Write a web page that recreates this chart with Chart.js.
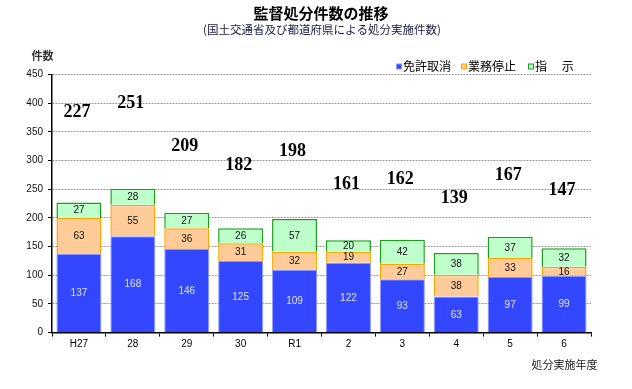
<!DOCTYPE html>
<html><head><meta charset="utf-8">
<script src="https://cdn.jsdelivr.net/npm/chart.js@4.4.1/dist/chart.umd.min.js"></script>
<style>html,body{margin:0;padding:0;background:#fff}#wrap{width:632px;height:389px;position:relative}</style>
</head><body><div id="wrap"><canvas id="c" width="632" height="389"></canvas></div>
<script>
// ---- data ----
const categories = ['H27','28','29','30','R1','2','3','4','5','6'];
const revocation = [137,168,146,125,109,122,93,63,97,99];   // 免許取消
const suspension = [63,55,36,31,32,19,27,38,33,16];         // 業務停止
const instruction = [27,28,27,26,57,20,42,38,37,32];        // 指示
const totals = [227,251,209,182,198,161,162,139,167,147];
const seriesNames = ['免許取消','業務停止','指　 示'];
const yMin = 0, yMax = 450, yStep = 50;
// vertical placement of the total labels (in axis units), as in the reference
const totalLabelAt = [385,399,325,291,317,259,267,234,274,248];

const titleText = '監督処分件数の推移';
const subtitleText = '(国土交通省及び都道府県による処分実施件数)';
const yTitleText = '件数';
const xTitleText = '処分実施年度';

const CJK = '"Noto Sans CJK JP", "Noto Sans", sans-serif';
const NUM = '"Liberation Sans", Arial, sans-serif';
const fills = ['#3347FF','#FFCC99','#BFFFCB'];
const borders = ['#8C98FF','#FFA500','#1E9E1E'];

const decor = {
  id: 'decor',
  afterDatasetsDraw(chart) {
    const ctx = chart.ctx;
    ctx.save();
    ctx.textAlign = 'center';
    ctx.textBaseline = 'middle';
    ctx.font = '10px ' + NUM;
    chart.data.datasets.forEach((ds, di) => {
      const meta = chart.getDatasetMeta(di);
      meta.data.forEach((el, i) => {
        ctx.fillStyle = di === 0 ? '#DCE4FF' : '#111';
        ctx.fillText(String(ds.data[i]), el.x, (el.y + el.base) / 2 + 0.5);
      });
    });
    ctx.restore();
  },
  afterDraw(chart) {
    const ctx = chart.ctx;
    const ys = chart.scales.y, xs = chart.scales.x;
    ctx.save();
    // title
    ctx.textAlign = 'center';
    ctx.textBaseline = 'middle';
    ctx.fillStyle = '#000';
    ctx.font = 'bold 15px ' + CJK;
    ctx.fillText(titleText, 321, 13);
    ctx.fillStyle = '#1a1a44';
    ctx.font = '11.5px ' + CJK;
    ctx.fillText(subtitleText, 322, 30);
    // y title
    ctx.fillStyle = '#333';
    ctx.font = 'bold 11px ' + CJK;
    ctx.fillText(yTitleText, 42.5, 56);
    // x title
    ctx.fillStyle = '#222';
    ctx.font = '11px ' + CJK;
    ctx.fillText(xTitleText, 564.5, 365);
    // legend
    const legendX = [394, 459, 526];
    ctx.textAlign = 'left';
    ctx.font = '12px ' + CJK;
    seriesNames.forEach((n, i) => {
      const x = legendX[i];
      ctx.fillStyle = fills[i];
      ctx.fillRect(x + 2.5, 64, 5, 5);
      ctx.strokeStyle = borders[i];
      ctx.lineWidth = 1;
      ctx.strokeRect(x + 2.5, 64, 5, 5);
      ctx.fillStyle = '#000';
      ctx.fillText(n, x + 9, 66.5);
    });
    // totals
    ctx.textAlign = 'center';
    ctx.fillStyle = '#000';
    ctx.font = 'bold 18px "Liberation Serif", "DejaVu Serif", serif';
    totals.forEach((t, i) => {
      ctx.fillText(String(t), xs.getPixelForValue(i) - 2, ys.getPixelForValue(totalLabelAt[i]));
    });
    ctx.restore();
  }
};

new Chart(document.getElementById('c'), {
  type: 'bar',
  data: {
    labels: categories,
    datasets: [
      { label: seriesNames[0], data: revocation, backgroundColor: fills[0], borderColor: borders[0], borderWidth: 1 },
      { label: seriesNames[1], data: suspension, backgroundColor: fills[1], borderColor: borders[1], borderWidth: 1.5 },
      { label: seriesNames[2], data: instruction, backgroundColor: fills[2], borderColor: borders[2], borderWidth: 1.5 }
    ]
  },
  options: {
    responsive: false,
    animation: false,
    devicePixelRatio: 1,
    layout: { padding: { top: 74.6, right: 41, bottom: 0, left: 0 } },
    datasets: { bar: { barPercentage: 0.835, categoryPercentage: 1.0 } },
    plugins: { legend: { display: false }, title: { display: false }, tooltip: { enabled: false } },
    scales: {
      x: {
        stacked: true,
        afterFit(s) { s.height = 56.4; },
        grid: { display: true, drawOnChartArea: false, drawTicks: true, tickLength: 4, tickColor: '#000', tickWidth: 1 },
        border: { display: true, color: '#000', width: 1.5 },
        ticks: { color: '#000', font: { size: 10, family: NUM }, padding: 2, maxRotation: 0 }
      },
      y: {
        stacked: true,
        min: yMin, max: yMax,
        afterFit(s) { s.width = 52; },
        grid: { color: '#9a9a9a', lineWidth: 1, drawTicks: true, tickLength: 4, tickColor: '#000', tickWidth: 1 },
        border: { display: true, color: '#000', width: 1.5, dash: [2, 1] },
        ticks: { stepSize: yStep, color: '#111', font: { size: 10, family: NUM }, padding: 5 }
      }
    }
  },
  plugins: [decor]
});
</script></body></html>
